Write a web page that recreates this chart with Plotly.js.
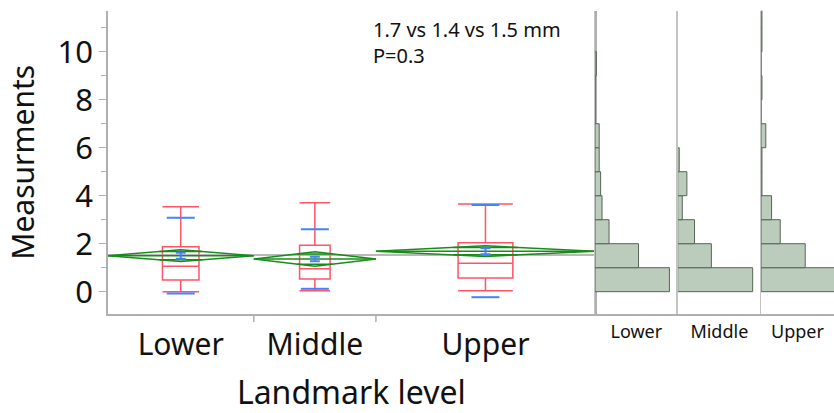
<!DOCTYPE html>
<html><head><meta charset="utf-8">
<script src="https://cdn.plot.ly/plotly-3.0.1.min.js"></script>
<style>html,body{margin:0;padding:0;background:#fff}#chart{width:834px;height:413px}</style>
</head><body><div id="chart"></div>
<script>
// ---- data ----
const categories = ['Lower', 'Middle', 'Upper'];
const groupN = [110, 92, 165];
const q1 = [0.49, 0.53, 0.57];
const medians = [1.06, 0.96, 1.18];
const q3 = [1.875, 1.93, 2.04];
const lowerWhisker = [0.0, 0.04, 0.04];
const upperWhisker = [3.54, 3.71, 3.65];
const means = [1.5, 1.36, 1.69];
const sds = [1.58, 1.24, 1.92];
const ses = [0.125, 0.095, 0.125];
const ci95 = [0.245, 0.3, 0.22];
const grandMean = 1.53;
const histBins = [0.5, 1.5, 2.5, 3.5, 4.5, 5.5, 6.5, 7.5, 8.5, 9.5, 10.5, 11.5];
const histLower = [53, 31, 10, 5, 4, 3, 3, 0, 0, 1];
const histMiddle = [49, 22, 11, 3, 6, 1];
const histUpper = [78, 46, 20, 11, 1, 1, 5, 0, 1, 0, 1, 1];
const yTicks = [0, 2, 4, 6, 8, 10];
const statText = ['1.7 vs 1.4 vs 1.5 mm', 'P=0.3'];
const yTitle = 'Measurments';
const xTitle = 'Landmark level';

// ---- styling / geometry ----
const W = 834, H = 413;
const FONT = 'Noto Sans, Open Sans, sans-serif';
const RED = 'rgb(255,84,104)', BLUE = 'rgb(70,130,255)', GREEN = 'rgb(24,140,24)';
const AXIS = 'rgb(175,175,175)', PANEL = 'rgb(195,195,195)';
const HFILL = 'rgb(188,204,188)', HLINE = 'rgb(85,102,85)';
const px = v => v / W, py = v => 1 - v / H;
const yDom = [py(314), py(10.7)];
const xMain = [px(107.7), px(595)];
const panelEdges = [595, 677.7, 761, 844.3];

const starts = []; let acc = 0;
groupN.forEach(n => { starts.push(acc); acc += n; });
const total = acc;
const centers = starts.map((s, i) => s + groupN[i] / 2);

const traces = [];
// grand mean line
traces.push({type: 'scatter', mode: 'lines', x: [0, total], y: [grandMean, grandMean],
  line: {color: 'rgb(160,160,160)', width: 1.5}, hoverinfo: 'skip'});
// means diamonds
categories.forEach((c, i) => {
  const s = starts[i], e = s + groupN[i], m = means[i], h = ci95[i], cx = centers[i];
  const f = Math.SQRT1_2, dx = (1 - f) * groupN[i] / 2;
  traces.push({type: 'scatter', mode: 'lines',
    x: [s, cx, e, cx, s, null, s, e, null, cx - dx, cx + dx, null, cx - dx, cx + dx],
    y: [m, m + h, m, m - h, m, null, m, m, null, m + f * h, m + f * h, null, m - f * h, m - f * h],
    line: {color: GREEN, width: 1.5}, hoverinfo: 'skip'});
});
// box plots
categories.forEach((c, i) => {
  traces.push({type: 'box', x: [centers[i]], q1: [q1[i]], median: [medians[i]], q3: [q3[i]],
    lowerfence: [lowerWhisker[i]], upperfence: [upperWhisker[i]],
    width: groupN[i] * 0.25, whiskerwidth: 1, boxpoints: false,
    line: {color: RED, width: 1.5}, fillcolor: 'rgba(0,0,0,0)', hoverinfo: 'skip'});
});
// std dev lines
traces.push({type: 'scatter', mode: 'markers',
  x: centers.concat(centers), y: means.map((m, i) => m + sds[i]).concat(means.map((m, i) => m - sds[i])),
  marker: {symbol: 'line-ew', size: 20, line: {width: 2, color: BLUE}}, hoverinfo: 'skip'});
// mean error bars
traces.push({type: 'scatter', mode: 'markers', x: centers, y: means,
  marker: {size: 1, color: BLUE},
  error_y: {type: 'data', array: ses, visible: true, color: BLUE, thickness: 2, width: 5}, hoverinfo: 'skip'});
// histograms
const hists = [histLower, histMiddle, histUpper];
hists.forEach((h, i) => {
  traces.push({type: 'bar', orientation: 'h', x: h, y: histBins.slice(0, h.length), width: 1,
    xaxis: 'x' + (i + 2), yaxis: 'y' + (i + 2),
    marker: {color: HFILL, line: {color: HLINE, width: 1}}, hoverinfo: 'skip'});
});

const layout = {
  width: W, height: H, margin: {l: 0, r: 0, t: 0, b: 0},
  paper_bgcolor: '#fff', plot_bgcolor: '#fff', showlegend: false,
  font: {family: FONT, color: '#111'},
  xaxis: {domain: xMain, range: [0, total], anchor: 'y', showgrid: false, zeroline: false,
    showline: true, linecolor: AXIS, linewidth: 1.5, tickvals: centers, ticktext: categories,
    ticks: '', tickfont: {size: 30, color: '#111'}, ticklabelstandoff: 3,
    title: {text: xTitle, font: {size: 32, color: '#111'}, standoff: 23}},
  yaxis: {domain: yDom, range: [-0.93, 11.71], anchor: 'x', showgrid: false, zeroline: false,
    showline: true, mirror: true, linecolor: AXIS, linewidth: 1.5,
    tickvals: yTicks, ticks: 'outside', ticklen: 7, tickwidth: 1.5, tickcolor: AXIS,
    minor: {dtick: 1, tick0: 0, ticks: 'outside', ticklen: 5, tickcolor: AXIS, tickwidth: 1.2},
    tickfont: {size: 31, color: '#111'},
    title: {text: yTitle, font: {size: 30, color: '#111'}, standoff: 14}},
  shapes: starts.slice(1).map(b => ({type: 'line', xref: 'x', yref: 'paper', x0: b, x1: b,
    y0: yDom[0], y1: yDom[0] - 8 / H, line: {color: AXIS, width: 1.5}})),
  annotations: [{xref: 'paper', yref: 'paper', x: px(371), y: py(14), xanchor: 'left', yanchor: 'top',
    align: 'left', showarrow: false, text: statText.join('<br>'), font: {size: 20, color: '#111'}}]
};
hists.forEach((h, i) => {
  const a = panelEdges[i], b = Math.min(panelEdges[i + 1], W);
  const fullPx = panelEdges[i + 1] - panelEdges[i];
  const mx = Math.max.apply(null, h) / 0.9 * (b - a) / fullPx;
  layout['xaxis' + (i + 2)] = {domain: [px(a), px(b)], range: [0, mx], anchor: 'y' + (i + 2),
    showgrid: false, zeroline: false, showticklabels: false, ticks: '',
    showline: true, linecolor: AXIS, linewidth: 1.5,
    title: {text: categories[i], font: {size: 18, color: '#111'}, standoff: 11}};
  layout['yaxis' + (i + 2)] = {domain: yDom, matches: 'y', anchor: 'x' + (i + 2),
    showgrid: false, zeroline: false, showticklabels: false, ticks: '',
    showline: true, linecolor: PANEL, linewidth: 1.5};
});

Plotly.newPlot('chart', traces, layout, {staticPlot: true});
</script>
</body></html>
